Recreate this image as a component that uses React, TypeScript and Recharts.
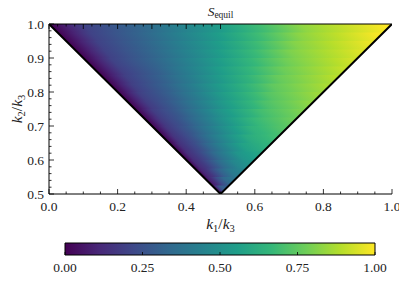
import { Area, ComposedChart, Label, Line, ReferenceArea, XAxis, YAxis } from "recharts";

// lower edge of the region (the black V)
const boundary = [
    { x: 0, v: 1 },
    { x: 0.5, v: 0.5 },
    { x: 1, v: 1 },
]

// heatmap rows: centre of each row, and S read at fractions across the row (left edge -> right edge)
const rowY = [0.5125, 0.5375, 0.5625, 0.5875, 0.6125, 0.6375, 0.6625, 0.6875, 0.7125, 0.7375,
    0.7625, 0.7875, 0.8125, 0.8375, 0.8625, 0.8875, 0.9125, 0.9375, 0.9625, 0.9875]
const rowFrac = [0, 0.1, 0.25, 0.5, 0.75, 1]
const rowValues = [
    [0, 0.06, 0.10, 0.20, 0.27, 0.30],
    [0, 0.08, 0.13, 0.25, 0.34, 0.38],
    [0, 0.10, 0.16, 0.30, 0.40, 0.45],
    [0, 0.12, 0.19, 0.34, 0.46, 0.52],
    [0, 0.13, 0.21, 0.38, 0.52, 0.58],
    [0, 0.14, 0.23, 0.42, 0.57, 0.64],
    [0, 0.15, 0.25, 0.45, 0.61, 0.69],
    [0, 0.16, 0.27, 0.47, 0.64, 0.73],
    [0, 0.17, 0.28, 0.49, 0.67, 0.77],
    [0, 0.18, 0.29, 0.51, 0.69, 0.80],
    [0, 0.18, 0.30, 0.52, 0.71, 0.83],
    [0, 0.19, 0.30, 0.53, 0.73, 0.85],
    [0, 0.19, 0.31, 0.54, 0.75, 0.87],
    [0, 0.19, 0.31, 0.54, 0.76, 0.89],
    [0, 0.19, 0.31, 0.55, 0.77, 0.91],
    [0, 0.20, 0.32, 0.55, 0.78, 0.93],
    [0, 0.20, 0.32, 0.55, 0.80, 0.95],
    [0, 0.20, 0.32, 0.55, 0.81, 0.97],
    [0, 0.20, 0.32, 0.55, 0.82, 0.99],
    [0, 0.20, 0.32, 0.55, 0.83, 1.00],
]
const rowHalf = 0.0125

const xTicks = [0, 0.05, 0.1, 0.15, 0.2, 0.25, 0.3, 0.35, 0.4, 0.45, 0.5, 0.55, 0.6, 0.65, 0.7, 0.75, 0.8, 0.85, 0.9, 0.95, 1]
const yTicks = [0.5, 0.52, 0.54, 0.56, 0.58, 0.6, 0.62, 0.64, 0.66, 0.68, 0.7, 0.72, 0.74, 0.76, 0.78, 0.8,
    0.82, 0.84, 0.86, 0.88, 0.9, 0.92, 0.94, 0.96, 0.98, 1]
const cbTicks = [0, 0.25, 0.5, 0.75, 1]
const cbRange = [{ x: 0 }, { x: 1 }]

const VIRIDIS = ['#440154', '#482878', '#3e4989', '#31688e', '#26828e', '#1f9e89', '#35b779', '#6ece58', '#b5de2b', '#fde725']

const hex = (c: string) => [1, 3, 5].map(i => parseInt(c.slice(i, i + 2), 16))
const viridis = (v: number) => {
    const t = Math.max(0, Math.min(1, v)) * 9
    const i = Math.min(8, Math.floor(t))
    const f = t - i
    const a = hex(VIRIDIS[i]), b = hex(VIRIDIS[i + 1])
    return `rgb(${a.map((c, k) => Math.round(c + (b[k] - c) * f)).join(',')})`
}

const FONT = "Liberation Serif"
const isMajor = (v: number, step: number) => Math.abs(v / step - Math.round(v / step)) < 1e-6

// each row area runs from its bottom up to 1; the gradient is tilted so its
// contours run parallel to the left edge of the V (no steps between rows there)
const rowGradient = (i: number) => {
    const yb = rowY[i] - rowHalf
    const h = 1 - yb
    const xl = 1 - rowY[i], xr = rowY[i]
    const vc = (1 - rowY[i]) / h
    const g2 = 1 / (h * h) + 1
    const s = (xr - xl) / (h * g2)
    const vals = rowValues[i]
    const stops: { o: number, c: string }[] = []
    for (let k = 0; k < rowFrac.length - 1; k++) {
        for (let j = 0; j < 4; j++) {
            const f = rowFrac[k] + (rowFrac[k + 1] - rowFrac[k]) * j / 4
            const v = vals[k] + (vals[k + 1] - vals[k]) * j / 4
            stops.push({ o: f, c: viridis(v) })
        }
    }
    stops.push({ o: 1, c: viridis(vals[vals.length - 1]) })
    return { x1: xl, y1: vc, x2: xl + s / h, y2: vc - s, stops }
}

const BottomTick = ({ x, y, payload }: any) => {
    const major = isMajor(payload.value, 0.2)
    return <g>
        <line x1={x} x2={x} y1={y} y2={y - (major ? 5 : 2.5)} stroke="#000" strokeWidth={0.8} />
        {major && <text x={x} y={y + 17} textAnchor="middle" fontFamily={FONT} fontSize={13.5} fill="#222">{payload.value.toFixed(1)}</text>}
    </g>
}
const TopTick = ({ x, y, payload }: any) =>
    <line x1={x} x2={x} y1={y} y2={y + (isMajor(payload.value, 0.2) ? 5 : 2.5)} stroke="#000" strokeWidth={0.8} />

const LeftTick = ({ x, y, payload }: any) => {
    const major = isMajor(payload.value, 0.1)
    return <g>
        <line x1={x} x2={x + (major ? 5 : 2.5)} y1={y} y2={y} stroke="#000" strokeWidth={0.8} />
        {major && <text x={x - 5} y={y + 4.5} textAnchor="end" fontFamily={FONT} fontSize={13.5} fill="#222">{payload.value.toFixed(1)}</text>}
    </g>
}
const RightTick = ({ x, y, payload }: any) =>
    <line x1={x} x2={x - (isMajor(payload.value, 0.1) ? 5 : 2.5)} y1={y} y2={y} stroke="#000" strokeWidth={0.8} />

const CbTick = ({ x, y, payload }: any) => <g>
    <line x1={x} x2={x} y1={y} y2={y - 3} stroke="#000" strokeWidth={0.8} />
    <text x={x} y={y + 16.5} textAnchor="middle" fontFamily={FONT} fontSize={13.5} fill="#222">{payload.value.toFixed(2)}</text>
</g>

const Ratio = ({ a, b }: { a: string, b: string }) => <>
    <tspan fontStyle="italic">k</tspan>
    <tspan fontSize={10.5} dy={3}>{a}</tspan>
    <tspan dy={-3}>/</tspan>
    <tspan fontStyle="italic">k</tspan>
    <tspan fontSize={10.5} dy={3}>{b}</tspan>
</>

export default function App() {
    return <div style={{ margin: "-8px 0 0 -8px" }}>
        <ComposedChart width={407} height={233} data={boundary} margin={{ top: 8, right: 15, bottom: 0, left: 0 }}>
            <defs>
                {rowY.map((_, i) => {
                    const gr = rowGradient(i)
                    return <linearGradient key={i} id={`row${i}`} x1={gr.x1} y1={gr.y1} x2={gr.x2} y2={gr.y2}>
                        {gr.stops.map((s, k) => <stop key={k} offset={s.o} stopColor={s.c} />)}
                    </linearGradient>
                })}
            </defs>
            <XAxis dataKey="x" type="number" domain={[0, 1]} ticks={xTicks} interval={0} tick={<BottomTick />}
                tickLine={false} tickSize={0} tickMargin={0} height={39} axisLine={{ stroke: "#000" }} allowDataOverflow>
                <Label content={({ viewBox }: any) =>
                    <text x={viewBox.x + viewBox.width / 2} y={viewBox.y + 35} textAnchor="middle" fontFamily={FONT} fontSize={15.5} fill="#222">
                        <Ratio a="1" b="3" />
                    </text>} />
            </XAxis>
            <XAxis xAxisId="top" orientation="top" type="number" domain={[0, 1]} ticks={xTicks} interval={0} tick={<TopTick />}
                tickLine={false} tickSize={0} tickMargin={0} height={16} axisLine={{ stroke: "#000" }} allowDataOverflow>
                <Label content={({ viewBox }: any) =>
                    <text x={viewBox.x + viewBox.width / 2} y={viewBox.y + viewBox.height - 8.5} textAnchor="middle" fontFamily={FONT} fontSize={13.5} fill="#222">
                        <tspan fontStyle="italic">S</tspan>
                        <tspan fontSize={9.5} dy={2.5}>equil</tspan>
                    </text>} />
            </XAxis>
            <YAxis type="number" domain={[0.5, 1]} ticks={yTicks} interval={0} tick={<LeftTick />}
                tickLine={false} tickSize={0} tickMargin={0} width={49} axisLine={{ stroke: "#000" }} allowDataOverflow>
                <Label content={({ viewBox }: any) => {
                    const cx = 22, cy = viewBox.y + viewBox.height / 2
                    return <text x={cx} y={cy} transform={`rotate(-90 ${cx} ${cy})`} textAnchor="middle" fontFamily={FONT} fontSize={15.5} fill="#222">
                        <Ratio a="2" b="3" />
                    </text>
                }} />
            </YAxis>
            <YAxis yAxisId="right" orientation="right" type="number" domain={[0.5, 1]} ticks={yTicks} interval={0} tick={<RightTick />}
                tickLine={false} tickSize={0} tickMargin={0} width={0} axisLine={{ stroke: "#000" }} allowDataOverflow />
            {rowY.map((y, i) =>
                <Area key={i} type="linear" dataKey={() => [y - rowHalf, 1]} fill={`url(#row${i})`} fillOpacity={1}
                    stroke="none" dot={false} activeDot={false} isAnimationActive={false} />)}
            <Area type="linear" dataKey={(d: any) => [0.5, d.v]} fill="#fff" fillOpacity={1} stroke="none"
                dot={false} activeDot={false} isAnimationActive={false} />
            <Line type="linear" dataKey="v" stroke="#000" strokeWidth={2} dot={false} activeDot={false} isAnimationActive={false} />
        </ComposedChart>
        <ComposedChart width={407} height={48} data={cbRange} margin={{ top: 10, right: 32, bottom: 0, left: 65 }}>
            <defs>
                <linearGradient id="cbar" x1="0" x2="1" y1="0" y2="0">
                    {VIRIDIS.map((c, k) => <stop key={k} offset={k / 9} stopColor={c} />)}
                </linearGradient>
            </defs>
            <XAxis dataKey="x" type="number" domain={[0, 1]} ticks={cbTicks} interval={0} tick={<CbTick />}
                tickLine={false} tickSize={0} tickMargin={0} height={26} axisLine={false} />
            <YAxis type="number" domain={[0, 1]} hide width={0} />
            <Area type="linear" dataKey={() => [0, 1]} fill="url(#cbar)" fillOpacity={1} stroke="none"
                dot={false} activeDot={false} isAnimationActive={false} />
            <ReferenceArea x1={0} x2={1} y1={0} y2={1} fill="none" stroke="#000" strokeWidth={1} ifOverflow="visible" />
        </ComposedChart>
    </div>
}
